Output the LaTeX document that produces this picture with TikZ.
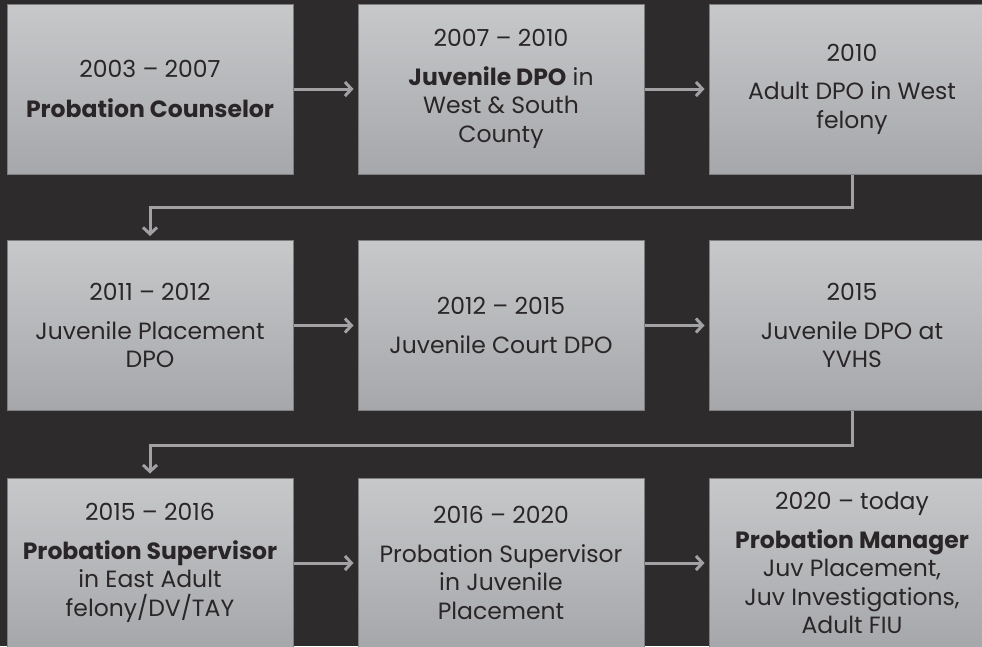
\documentclass[tikz,border=0pt]{standalone}
\usepackage{fontspec}
\setmainfont{Poppins}
\usetikzlibrary{arrows.meta}
\definecolor{bgc}{HTML}{2D2B2C}
\definecolor{boxtop}{HTML}{C7C8CA}
\definecolor{boxbot}{HTML}{A6A7AA}
\definecolor{boxline}{HTML}{7E7E80}
\definecolor{txt}{HTML}{2A2627}
\definecolor{arrowc}{HTML}{A2A2A4}
\tikzset{
  boxstyle/.style={rectangle, minimum width=286pt, minimum height=170pt,
    top color=boxtop, bottom color=boxbot, draw=boxline, line width=1pt,
    text=txt, align=center, inner sep=0pt,
    font=\fontsize{23.5}{28.5}\selectfont},
  conn/.style={draw=arrowc, line width=3pt, line join=miter,
    -{Straight Barb[length=6.5pt,width=14pt]}, shorten >=4pt}
}
\begin{document}
\begin{tikzpicture}[x=1pt,y=-1pt]
\useasboundingbox (0,0) rectangle (982,646);
\clip (0,0) rectangle (982,646);
\fill[bgc] (0,0) rectangle (982,646);

\node[boxstyle] (b1) at (150,89) {2003 – 2007\\[11pt]\textbf{Probation Counselor}};
\node[boxstyle] (b2) at (501,89) {2007 – 2010\\[10pt]\textbf{Juvenile DPO} in\\West \& South\\County};
\node[boxstyle] (b3) at (852,89) {2010\\[10pt]Adult DPO in West\\felony};

\node[boxstyle] (b4) at (150,325.5) {2011 – 2012\\[10pt]Juvenile Placement\\DPO};
\node[boxstyle] (b5) at (501,325.5) {2012 – 2015\\[10pt]Juvenile Court DPO};
\node[boxstyle] (b6) at (852,325.5) {2015\\[10pt]Juvenile DPO at\\YVHS};

\node[boxstyle] (b7) at (150,563) {2015 – 2016\\[10pt]\textbf{Probation Supervisor}\\in East Adult\\felony/DV/TAY};
\node[boxstyle] (b8) at (501,563) {2016 – 2020\\[10pt]Probation Supervisor\\in Juvenile\\Placement};
\node[boxstyle] (b9) at (852,563) {2020 – today\\[10pt]\textbf{Probation Manager}\\Juv Placement,\\Juv Investigations,\\Adult FIU};

\draw[conn] (b1) -- (b2);
\draw[conn] (b2) -- (b3);
\draw[conn] (b4) -- (b5);
\draw[conn] (b5) -- (b6);
\draw[conn] (b7) -- (b8);
\draw[conn] (b8) -- (b9);

\coordinate (k1) at (852,207);
\coordinate (k2) at (150,207);
\coordinate (k3) at (852,445);
\coordinate (k4) at (150,445);
\draw[conn] (b3.south) -- (k1) -- (k2) -- (b4.north);
\draw[conn] (b6.south) -- (k3) -- (k4) -- (b7.north);
\end{tikzpicture}
\end{document}
